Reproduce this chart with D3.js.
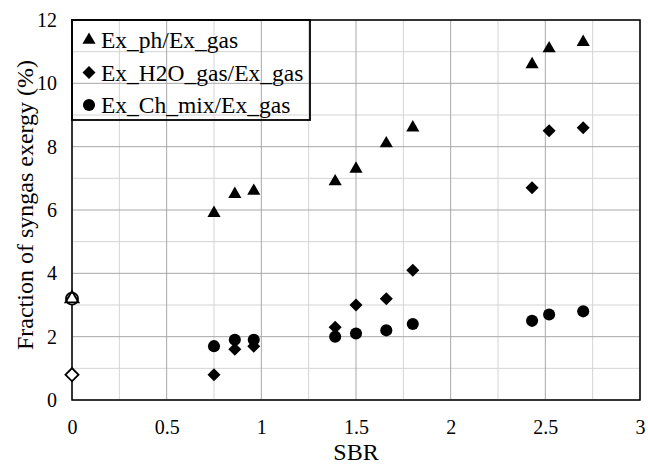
<!DOCTYPE html>
<html>
<head>
<meta charset="utf-8">
<script src="https://cdn.jsdelivr.net/npm/d3@7"></script>
<style>
  body { margin: 0; background: #fff; }
  svg text { font-family: "Liberation Serif", "DejaVu Serif", "Times New Roman", serif; }
</style>
</head>
<body>
<svg id="chart"></svg>
<script>
const width = 648;
const height = 466;
const margin = { top: 20, right: 8, bottom: 66, left: 72 };

// SBR values shared by the three series
const sbr = [0.75, 0.86, 0.96, 1.39, 1.5, 1.66, 1.8, 2.43, 2.52, 2.7];
const exPh = [5.9, 6.5, 6.6, 6.9, 7.3, 8.1, 8.6, 10.6, 11.1, 11.3];
const exH2O = [0.8, 1.6, 1.7, 2.3, 3.0, 3.2, 4.1, 6.7, 8.5, 8.6];
const exCh = [1.7, 1.9, 1.9, 2.0, 2.1, 2.2, 2.4, 2.5, 2.7, 2.8];

// open markers at SBR = 0
const zeroSbr = [0];
const zeroPh = [3.2];
const zeroH2O = [0.8];
const zeroCh = [3.2];

const seriesNames = ["Ex_ph/Ex_gas", "Ex_H2O_gas/Ex_gas", "Ex_Ch_mix/Ex_gas"];
const xTicks = [0, 0.5, 1, 1.5, 2, 2.5, 3];
const yTicks = [0, 2, 4, 6, 8, 10, 12];

const serif = "'Liberation Serif', 'DejaVu Serif', serif";

const svg = d3.select("#chart")
  .attr("width", width)
  .attr("height", height);

const x = d3.scaleLinear()
  .domain([0, 3])
  .range([margin.left, width - margin.right]);

const y = d3.scaleLinear()
  .domain([0, 12])
  .range([height - margin.bottom, margin.top]);

// grid: minor then major
const minorX = d3.range(0, 3.01, 0.25).filter(v => Math.abs(v * 2 - Math.round(v * 2)) > 1e-6);
const majorX = xTicks;
const minorY = d3.range(1, 12, 2);
const majorY = yTicks;

svg.append("g")
  .selectAll("line")
  .data(minorX)
  .join("line")
  .attr("x1", d => x(d)).attr("x2", d => x(d))
  .attr("y1", y(0)).attr("y2", y(12))
  .attr("stroke", "#d4d4d4").attr("stroke-width", 1);

svg.append("g")
  .selectAll("line")
  .data(minorY)
  .join("line")
  .attr("x1", x(0)).attr("x2", x(3))
  .attr("y1", d => y(d)).attr("y2", d => y(d))
  .attr("stroke", "#d4d4d4").attr("stroke-width", 1);

svg.append("g")
  .selectAll("line")
  .data(majorX)
  .join("line")
  .attr("x1", d => x(d)).attr("x2", d => x(d))
  .attr("y1", y(0)).attr("y2", y(12))
  .attr("stroke", "#a8a8a8").attr("stroke-width", 1);

svg.append("g")
  .selectAll("line")
  .data(majorY)
  .join("line")
  .attr("x1", x(0)).attr("x2", x(3))
  .attr("y1", d => y(d)).attr("y2", d => y(d))
  .attr("stroke", "#a8a8a8").attr("stroke-width", 1);

// frame
svg.append("rect")
  .attr("x", x(0)).attr("y", y(12))
  .attr("width", x(3) - x(0)).attr("height", y(0) - y(12))
  .attr("fill", "none")
  .attr("stroke", "#000")
  .attr("stroke-width", 1.5);

// axes
const xAxis = svg.append("g")
  .attr("transform", `translate(0,${y(0)})`)
  .call(d3.axisBottom(x).tickValues(xTicks).tickSize(0).tickPadding(20).tickFormat(d3.format("")));
xAxis.attr("font-family", serif).attr("font-size", 20);
xAxis.select(".domain").remove();
xAxis.selectAll("text").attr("fill", "#000");

const yAxis = svg.append("g")
  .attr("transform", `translate(${x(0)},0)`)
  .call(d3.axisLeft(y).tickValues(yTicks).tickSize(0).tickPadding(15));
yAxis.attr("font-family", serif).attr("font-size", 20);
yAxis.select(".domain").remove();
yAxis.selectAll("text").attr("fill", "#000");

svg.append("text")
  .attr("x", (x(0) + x(3)) / 2)
  .attr("y", 460)
  .attr("text-anchor", "middle")
  .attr("font-family", serif)
  .attr("font-size", 24)
  .text("SBR");

svg.append("text")
  .attr("transform", `translate(33,205) rotate(-90)`)
  .attr("text-anchor", "middle")
  .attr("font-family", serif)
  .attr("font-size", 24)
  .text("Fraction of syngas exergy (%)");

// markers
const triangle = d3.symbol().type(d3.symbolTriangle).size(75);
const diamond = d3.symbol().type(d3.symbolSquare).size(85);
const circle = d3.symbol().type(d3.symbolCircle).size(115);

function drawSeries(xs, ys, gen, rotate, fill) {
  svg.append("g")
    .selectAll("path")
    .data(xs.map((v, i) => [v, ys[i]]))
    .join("path")
    .attr("d", gen)
    .attr("transform", d => `translate(${x(d[0])},${y(d[1])})${rotate ? " rotate(45)" : ""}`)
    .attr("fill", fill)
    .attr("stroke", "#000")
    .attr("stroke-width", fill === "#000" ? 0 : 1.8);
}

drawSeries(zeroSbr, zeroCh, circle, false, "#fff");
drawSeries(zeroSbr, zeroPh, triangle, false, "none");
drawSeries(zeroSbr, zeroH2O, diamond, true, "#fff");

drawSeries(sbr, exPh, triangle, false, "#000");
drawSeries(sbr, exH2O, diamond, true, "#000");
drawSeries(sbr, exCh, circle, false, "#000");

// legend
const legendX = x(0);
const legendY = y(12);
const legend = svg.append("g");
legend.append("rect")
  .attr("x", legendX).attr("y", legendY)
  .attr("width", 238).attr("height", 100)
  .attr("fill", "none")
  .attr("stroke", "#000")
  .attr("stroke-width", 1.8);

const legendGens = [[triangle, false], [diamond, true], [circle, false]];
seriesNames.forEach((name, i) => {
  const cy = legendY + 20 + i * 32.5;
  legend.append("path")
    .attr("d", legendGens[i][0])
    .attr("transform", `translate(${legendX + 17},${cy})${legendGens[i][1] ? " rotate(45)" : ""}`)
    .attr("fill", "#000");
  legend.append("text")
    .attr("x", legendX + 29)
    .attr("y", cy + 8)
    .attr("font-family", serif)
    .attr("font-size", 23.5)
    .text(name);
});
</script>
</body>
</html>
